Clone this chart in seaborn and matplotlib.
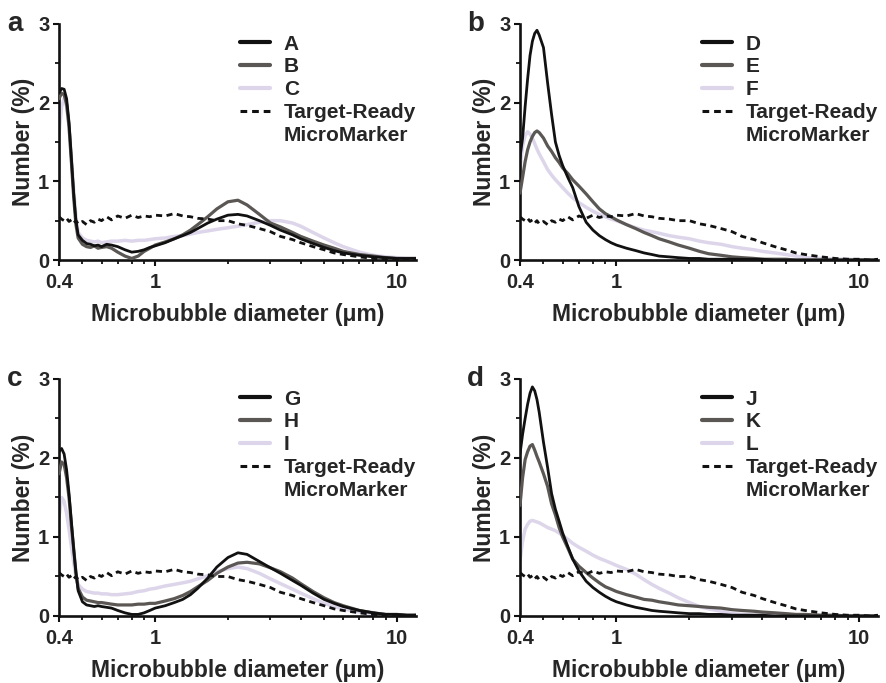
import numpy as np
import pandas as pd
import matplotlib
matplotlib.use("Agg")
import matplotlib.pyplot as plt
from matplotlib.lines import Line2D
from matplotlib.ticker import FixedLocator, NullFormatter, MultipleLocator
import seaborn as sns

# diameter grid (um)
diameter = [0.40, 0.41, 0.42, 0.43, 0.44, 0.45, 0.46, 0.47, 0.48, 0.50,
            0.52, 0.54, 0.56, 0.58, 0.60, 0.63, 0.66, 0.70, 0.75, 0.80,
            0.85, 0.90, 0.95, 1.0, 1.1, 1.2, 1.3, 1.4, 1.5, 1.65,
            1.8, 2.0, 2.2, 2.4, 2.7, 3.0, 3.3, 3.7, 4.0, 4.5,
            5.0, 5.5, 6.0, 7.0, 8.0, 9.0, 10.0, 11.0, 12.0]

# Target-Ready MicroMarker reference (same in every panel)
target_ready = [0.55, 0.52, 0.50, 0.53, 0.49, 0.51, 0.47, 0.50, 0.46, 0.49,
                0.45, 0.50, 0.48, 0.52, 0.50, 0.55, 0.51, 0.56, 0.53, 0.57,
                0.54, 0.56, 0.55, 0.57, 0.56, 0.59, 0.56, 0.55, 0.53, 0.52,
                0.50, 0.50, 0.46, 0.44, 0.40, 0.36, 0.30, 0.26, 0.22, 0.17,
                0.13, 0.09, 0.07, 0.04, 0.02, 0.01, 0.01, 0.00, 0.01]

# panel a
a_A = [2.12, 2.18, 2.17, 2.05, 1.75, 1.30, 0.85, 0.50, 0.32, 0.25,
       0.21, 0.20, 0.18, 0.19, 0.17, 0.20, 0.19, 0.17, 0.13, 0.10,
       0.11, 0.13, 0.16, 0.18, 0.22, 0.27, 0.31, 0.35, 0.40, 0.47,
       0.52, 0.57, 0.58, 0.56, 0.50, 0.44, 0.38, 0.32, 0.27, 0.21,
       0.16, 0.12, 0.09, 0.06, 0.04, 0.03, 0.02, 0.02, 0.02]
a_B = [2.05, 2.12, 2.10, 1.98, 1.70, 1.25, 0.80, 0.45, 0.28, 0.20,
       0.17, 0.16, 0.18, 0.15, 0.16, 0.17, 0.15, 0.10, 0.05, 0.02,
       0.05, 0.11, 0.15, 0.19, 0.23, 0.27, 0.32, 0.38, 0.45, 0.55,
       0.65, 0.74, 0.76, 0.70, 0.58, 0.47, 0.42, 0.35, 0.30, 0.24,
       0.19, 0.15, 0.11, 0.07, 0.05, 0.03, 0.02, 0.02, 0.02]
a_C = [1.60, 1.95, 2.05, 1.95, 1.70, 1.30, 0.90, 0.55, 0.35, 0.28,
       0.25, 0.24, 0.23, 0.24, 0.22, 0.23, 0.24, 0.24, 0.25, 0.24,
       0.25, 0.25, 0.26, 0.27, 0.28, 0.30, 0.31, 0.33, 0.35, 0.37,
       0.39, 0.41, 0.43, 0.45, 0.48, 0.50, 0.50, 0.47, 0.43, 0.35,
       0.28, 0.22, 0.17, 0.10, 0.06, 0.04, 0.03, 0.02, 0.02]

# panel b
b_D = [1.30, 1.55, 1.95, 2.30, 2.60, 2.78, 2.88, 2.92, 2.86, 2.70,
       2.25, 1.85, 1.50, 1.33, 1.20, 1.05, 0.92, 0.68, 0.48, 0.38,
       0.31, 0.26, 0.22, 0.19, 0.15, 0.12, 0.09, 0.07, 0.05, 0.04,
       0.03, 0.02, 0.02, 0.01, 0.01, 0.01, 0.01, 0.01, 0.01, 0.00,
       0.00, 0.00, 0.00, 0.00, 0.00, 0.00, 0.00, 0.00, 0.00]
b_E = [0.85, 1.05, 1.25, 1.40, 1.50, 1.57, 1.62, 1.64, 1.62, 1.55,
       1.45, 1.38, 1.30, 1.24, 1.17, 1.10, 1.02, 0.94, 0.84, 0.74,
       0.65, 0.59, 0.55, 0.51, 0.45, 0.40, 0.35, 0.31, 0.27, 0.23,
       0.19, 0.15, 0.11, 0.08, 0.06, 0.04, 0.03, 0.02, 0.01, 0.01,
       0.01, 0.00, 0.00, 0.00, 0.00, 0.00, 0.00, 0.00, 0.00]
b_F = [1.15, 1.45, 1.58, 1.63, 1.60, 1.55, 1.48, 1.41, 1.35, 1.25,
       1.15, 1.08, 1.02, 0.97, 0.92, 0.85, 0.79, 0.73, 0.67, 0.62,
       0.58, 0.55, 0.52, 0.50, 0.45, 0.41, 0.38, 0.36, 0.34, 0.31,
       0.29, 0.27, 0.24, 0.22, 0.20, 0.17, 0.15, 0.13, 0.11, 0.09,
       0.07, 0.05, 0.03, 0.02, 0.01, 0.01, 0.00, 0.00, 0.00]

# panel c
c_G = [2.08, 2.12, 2.05, 1.85, 1.55, 1.20, 0.85, 0.55, 0.32, 0.18,
       0.14, 0.13, 0.12, 0.13, 0.12, 0.11, 0.10, 0.07, 0.04, 0.02,
       0.02, 0.04, 0.07, 0.10, 0.13, 0.17, 0.21, 0.27, 0.35, 0.48,
       0.62, 0.74, 0.80, 0.78, 0.69, 0.61, 0.54, 0.45, 0.39, 0.29,
       0.21, 0.16, 0.12, 0.07, 0.04, 0.02, 0.02, 0.01, 0.01]
c_H = [1.80, 1.95, 1.92, 1.75, 1.50, 1.15, 0.85, 0.55, 0.35, 0.24,
       0.20, 0.19, 0.18, 0.17, 0.17, 0.16, 0.15, 0.14, 0.14, 0.14,
       0.15, 0.15, 0.16, 0.16, 0.19, 0.22, 0.26, 0.31, 0.37, 0.45,
       0.54, 0.62, 0.67, 0.68, 0.66, 0.61, 0.56, 0.48, 0.41, 0.31,
       0.23, 0.17, 0.13, 0.07, 0.04, 0.02, 0.02, 0.01, 0.01]
c_I = [1.25, 1.50, 1.45, 1.30, 1.10, 0.88, 0.68, 0.50, 0.40, 0.34,
       0.31, 0.30, 0.29, 0.29, 0.28, 0.28, 0.27, 0.27, 0.28, 0.29,
       0.31, 0.32, 0.34, 0.35, 0.38, 0.40, 0.42, 0.44, 0.47, 0.51,
       0.56, 0.60, 0.62, 0.60, 0.54, 0.47, 0.41, 0.34, 0.29, 0.22,
       0.16, 0.12, 0.09, 0.05, 0.03, 0.02, 0.01, 0.01, 0.01]

# panel d
d_J = [2.05, 2.30, 2.50, 2.68, 2.82, 2.90, 2.85, 2.74, 2.58, 2.20,
       1.88, 1.55, 1.35, 1.20, 1.05, 0.88, 0.72, 0.57, 0.44, 0.36,
       0.30, 0.25, 0.21, 0.18, 0.14, 0.11, 0.09, 0.07, 0.06, 0.05,
       0.04, 0.03, 0.03, 0.02, 0.02, 0.01, 0.01, 0.01, 0.01, 0.00,
       0.00, 0.00, 0.00, 0.00, 0.00, 0.00, 0.00, 0.00, 0.00]
d_K = [1.40, 1.75, 1.98, 2.08, 2.15, 2.17, 2.10, 2.02, 1.95, 1.80,
       1.64, 1.42, 1.28, 1.12, 1.00, 0.86, 0.72, 0.63, 0.55, 0.48,
       0.42, 0.37, 0.34, 0.31, 0.27, 0.24, 0.21, 0.20, 0.18, 0.16,
       0.14, 0.13, 0.12, 0.11, 0.10, 0.08, 0.07, 0.06, 0.05, 0.04,
       0.03, 0.02, 0.02, 0.01, 0.01, 0.00, 0.00, 0.00, 0.00]
d_L = [0.70, 0.95, 1.10, 1.16, 1.20, 1.21, 1.20, 1.19, 1.18, 1.15,
       1.12, 1.10, 1.08, 1.05, 1.02, 0.97, 0.92, 0.87, 0.82, 0.77,
       0.73, 0.70, 0.67, 0.64, 0.59, 0.53, 0.46, 0.40, 0.35, 0.29,
       0.23, 0.17, 0.12, 0.09, 0.06, 0.03, 0.02, 0.01, 0.01, 0.00,
       0.00, 0.00, 0.00, 0.00, 0.00, 0.00, 0.00, 0.00, 0.00]

panel_letters = ["a", "b", "c", "d"]
panel_names = [["A", "B", "C"], ["D", "E", "F"], ["G", "H", "I"], ["J", "K", "L"]]
panel_series = [[a_A, a_B, a_C], [b_D, b_E, b_F], [c_G, c_H, c_I], [d_J, d_K, d_L]]

sns.set_style("ticks")
plt.rcParams['font.family'] = ['Liberation Sans', 'DejaVu Sans']
plt.rcParams['font.weight'] = 'bold'
plt.rcParams['axes.labelweight'] = 'bold'

fig = plt.figure(figsize=(8.86, 6.83), dpi=100)

# axes boxes in figure fraction (left, bottom, width, height)
boxes = [(0.0666, 0.6193, 0.4029, 0.3456),
         (0.5869, 0.6193, 0.4041, 0.3456),
         (0.0666, 0.0981, 0.4029, 0.3470),
         (0.5869, 0.0981, 0.4041, 0.3470)]

colors = ['#111111', '#5b5754', '#ddd5ea']
widths = [2.0, 2.3, 2.5]
zorders = [4, 3, 2]

for k in range(4):
    ax = fig.add_axes(boxes[k])
    names = panel_names[k]
    # draw the light curve first so the darker ones sit on top
    for j in [2, 1, 0]:
        sns.lineplot(x=diameter, y=panel_series[k][j], ax=ax, color=colors[j],
                     lw=widths[j], label=names[j], zorder=zorders[j],
                     estimator=None, sort=False)
    sns.lineplot(x=diameter, y=target_ready, ax=ax, color='#111111', lw=2.0,
                 label='Target-Ready', zorder=5, estimator=None, sort=False)
    ax.get_lines()[-1].set_dashes([2.2, 1.6])

    ax.set_xscale('log')
    ax.set_xlim(0.4, 12)
    ax.set_ylim(0, 3)
    ax.xaxis.set_major_locator(FixedLocator([0.4, 1, 10]))
    ax.set_xticklabels(['0.4', '1', '10'])
    ax.xaxis.set_minor_locator(FixedLocator([0.5, 0.6, 0.7, 0.8, 0.9,
                                             2, 3, 4, 5, 6, 7, 8, 9]))
    ax.xaxis.set_minor_formatter(NullFormatter())
    ax.set_yticks([0, 1, 2, 3])
    ax.yaxis.set_minor_locator(MultipleLocator(0.5))

    sns.despine(ax=ax)
    for s in ['left', 'bottom']:
        ax.spines[s].set_linewidth(1.9)
        ax.spines[s].set_color('#111111')
    ax.tick_params(which='major', length=4.5, width=1.5, labelsize=14.5,
                   color='#111111', pad=2.5)
    ax.tick_params(axis='x', which='major', pad=5)
    ax.tick_params(which='minor', length=3, width=1.3, color='#111111')
    for t in ax.get_xticklabels() + ax.get_yticklabels():
        t.set_fontweight('bold')

    ax.set_xlabel('Microbubble diameter (\u03bcm)', fontsize=16.5, labelpad=8)
    ax.set_ylabel('Number (%)', fontsize=16.5, labelpad=2)

    # legend, with the second line of the reference label as its own row
    hs = [Line2D([], [], color=colors[0], lw=3),
          Line2D([], [], color=colors[1], lw=3),
          Line2D([], [], color=colors[2], lw=3),
          Line2D([], [], color='#111111', lw=2.2, dashes=[2.2, 1.6]),
          Line2D([], [], color='none')]
    ax.legend(hs, names + ['Target-Ready', 'MicroMarker'], loc='upper right',
              bbox_to_anchor=(1.0, 0.955), frameon=False, borderpad=0,
              borderaxespad=0, handlelength=1.45, handletextpad=0.65,
              labelspacing=0.18, prop={'size': 15, 'weight': 'bold'})

    bb = boxes[k]
    fig.text(bb[0] - 0.05, bb[1] + bb[3], panel_letters[k], fontsize=20,
             fontweight='bold', ha='center', va='center')

fig.savefig('out.png', dpi=100)
